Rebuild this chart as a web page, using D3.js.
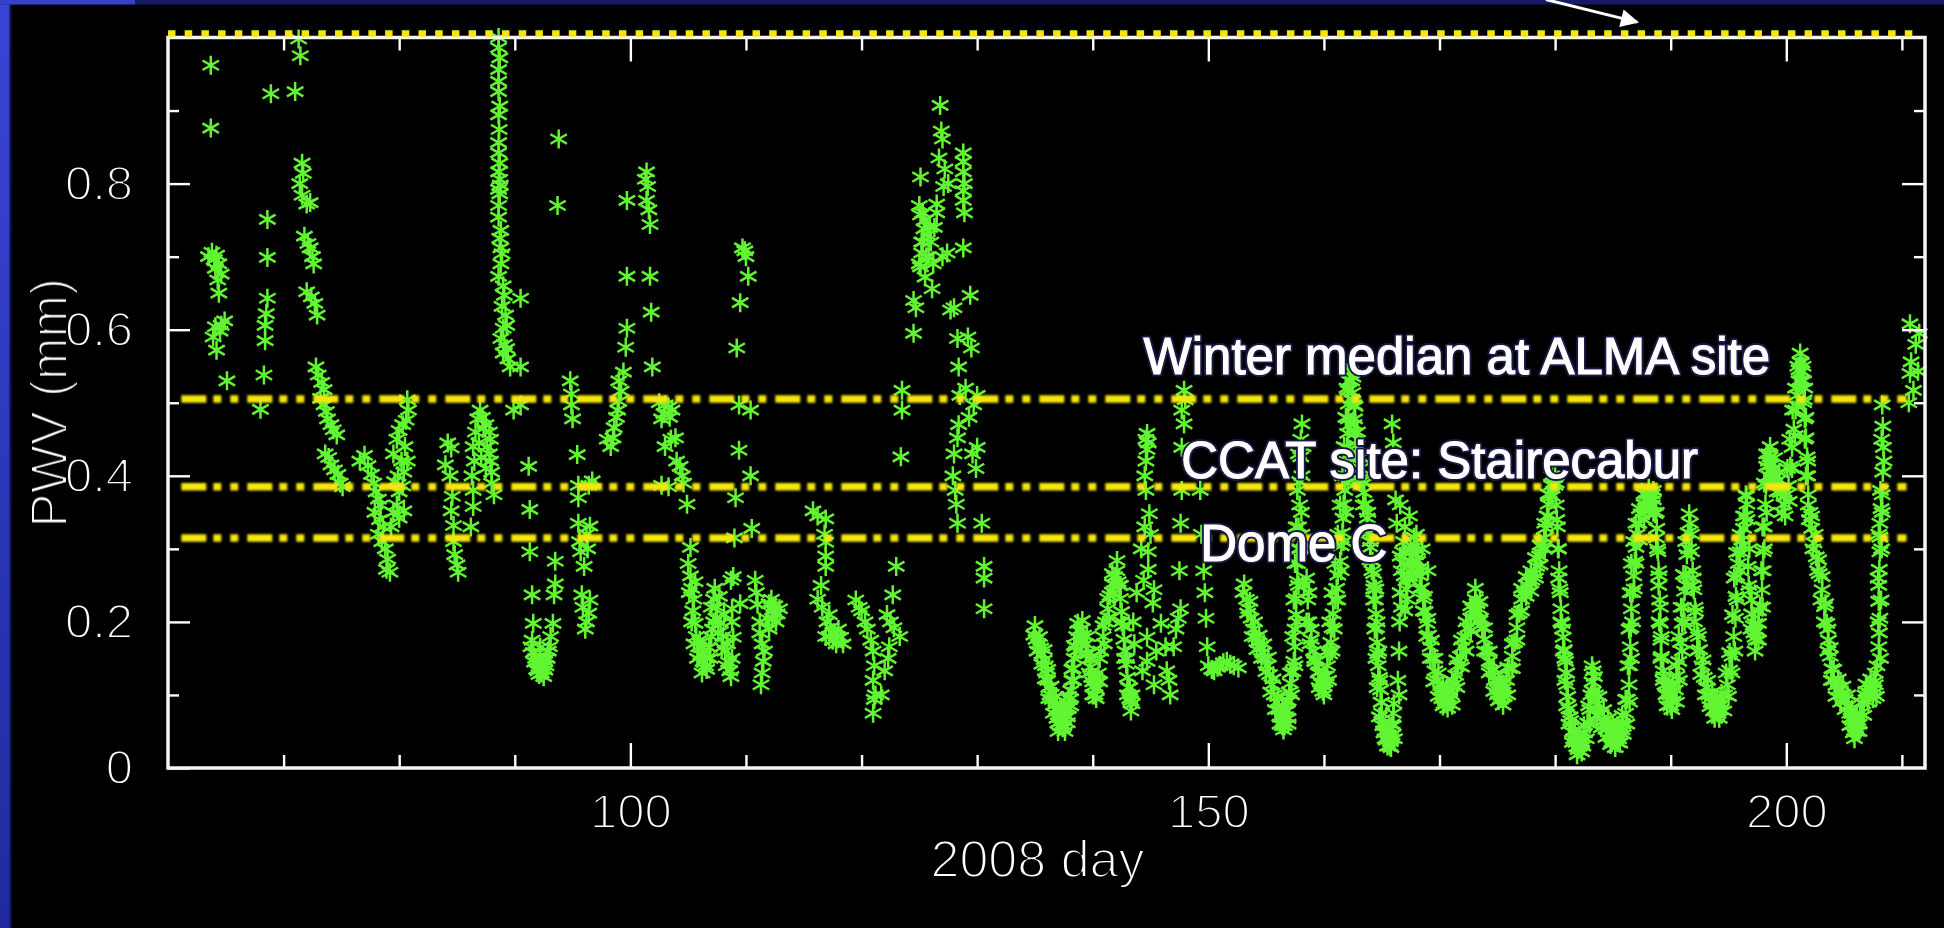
<!DOCTYPE html>
<html>
<head>
<meta charset="utf-8">
<script src="https://cdn.jsdelivr.net/npm/d3@7"></script>
<style>
  html, body { margin: 0; padding: 0; background: #000; overflow: hidden; }
  svg { display: block; }
</style>
</head>
<body>
<svg id="chart" width="1944" height="928"></svg>
<script>
// Precipitable water vapour (mm) against day of year 2008, as [day, pwv] samples.
const pwvDays060to076 = [
  [63.7,.962],[63.7,.876],
  [63.5,.700],[63.8,.706],[64.0,.696],[64.2,.702],[64.4,.690],[64.1,.684],[64.6,.676],[64.3,.668],
  [64.4,.650],[64.9,.612],[64.6,.606],[64.1,.604],[63.9,.590],[64.2,.572],[64.5,.598],[65.1,.530],
  [68.9,.923],[68.6,.751],[68.6,.699],[68.6,.643],[68.5,.622],[68.4,.606],[68.4,.585],[68.3,.538],[68.0,.491],
  [71.3,.998],[71.45,.975],[71.0,.926],
  [71.6,.828],[71.7,.814],[71.4,.800],[71.6,.784],[72.3,.774],[72.0,.772],
  [71.8,.728],[72.1,.718],[72.3,.712],[72.5,.700],[72.6,.690],
  [72.0,.652],[72.4,.645],[72.7,.636],[72.9,.620],
  [72.8,.549],[73.0,.538],[73.3,.528],[73.5,.518],[73.2,.506],[73.5,.497],[73.7,.488],[73.8,.478],
  [74.1,.470],[74.3,.463],[74.6,.456],[73.6,.430],[73.9,.425],[74.1,.415],[74.4,.408],[74.7,.402],
  [74.9,.390],[75.1,.385]
];
const pwvDays076to090 = [
  [76.6,.420],[77.0,.428],[77.3,.414],[77.6,.402],[77.8,.390],[78.0,.378],[78.2,.368],[78.4,.360],
  [77.9,.350],[78.3,.340],[78.6,.330],[78.2,.320],[78.5,.310],[78.8,.300],[79.0,.286],[78.9,.272],
  [79.2,.268],[79.3,.330],[79.5,.350],[79.8,.360],[80.0,.378],[79.6,.392],[79.9,.400],[80.3,.386],
  [80.0,.342],[80.4,.352],[79.5,.430],[79.8,.450],[80.0,.462],[80.3,.470],[80.6,.476],[80.8,.490],
  [80.7,.504],[80.5,.440],[80.7,.420],[80.2,.420],[80.4,.405],
  [84.2,.445],[84.5,.438],[84.0,.415],[84.4,.400],[84.6,.372],[84.5,.352],[84.7,.332],[84.7,.310],
  [84.8,.292],[85.0,.278],[85.1,.268],
  [86.2,.330],[86.4,.358],[86.4,.380],[86.3,.400],[86.5,.420],[86.4,.440],[86.6,.460],[86.8,.478],
  [87.0,.490],[87.2,.480],[87.5,.470],[87.8,.460],[87.9,.450],[87.6,.440],[87.9,.420],[88.0,.405],
  [87.5,.410],[88.2,.374],[88.0,.390],[87.8,.430],[87.3,.465],[86.9,.445],[87.1,.425],
  [88.6,1.0],[88.6,.986],[88.7,.972],[88.6,.956],[88.6,.940],[88.6,.926],[88.7,.906],[88.6,.894],
  [88.65,.874],[88.6,.856],[88.6,.842],[88.7,.828],[88.6,.816],[88.7,.806],[88.75,.798],[88.6,.792],
  [88.7,.786],[88.6,.770],[88.6,.754],[88.8,.736],[88.7,.725],[88.8,.712],[88.9,.704],[88.8,.690],
  [88.6,.673],[89.0,.660],[89.1,.647],[88.9,.632],[89.2,.620],[89.0,.602],[89.3,.606],[88.8,.588],
  [89.1,.580],[89.3,.574],[89.0,.568],[89.4,.560],[89.6,.549],[89.9,.490]
];
const pwvDays090to105 = [
  [90.5,.643],[90.5,.549],[90.5,.497],[91.2,.413],[91.3,.354],[91.3,.296],[91.5,.237],[91.6,.198],
  [91.4,.166],[91.6,.158],[91.8,.150],[92.0,.145],[92.2,.153],[92.4,.140],[92.6,.146],[92.8,.150],
  [92.0,.133],[92.3,.130],[92.6,.134],[93.0,.166],[93.1,.180],[93.3,.198],[93.4,.237],[93.5,.252],
  [91.7,.145],[91.9,.135],[92.1,.128],[92.5,.125],[92.7,.140],[92.9,.160],[91.5,.175],[92.2,.165],
  [93.5,.283],[93.8,.861],[93.7,.770],
  [94.8,.530],[94.9,.512],[94.9,.497],[95.0,.478],[95.4,.429],[95.5,.387],[96.7,.393],[96.4,.387],
  [95.5,.370],[95.5,.335],[96.5,.331],[96.2,.320],[95.6,.310],[95.7,.296],[96.3,.300],[96.0,.276],
  [95.8,.237],[95.9,.220],[96.2,.200],[96.5,.230],[96.4,.212],[96.1,.190],
  [98.0,.450],[98.3,.440],[98.5,.452],[98.6,.466],[98.8,.480],[98.9,.490],[99.0,.502],[99.2,.516],
  [99.0,.530],[99.4,.542],[99.6,.576],[99.7,.602],[99.7,.673],[99.7,.777],[101.4,.816],[101.3,.806],
  [101.5,.796],[101.4,.777],[101.6,.764],[101.7,.744],[101.7,.673],[101.8,.624],[101.9,.549],
  [102.5,.500],[103.0,.497],[103.3,.494],[103.6,.490],[102.9,.485],[103.4,.480],[102.7,.478],
  [103.0,.440],[103.5,.450],[103.9,.452],[104.3,.413],[104.0,.420],[104.5,.400],[104.6,.390],
  [102.7,.387],[103.3,.385],[104.9,.361],[105.2,.302]
];
const pwvDays105to124 = [
  [105.0,.280],[105.2,.263],[105.3,.246],[105.5,.231],[105.4,.215],[105.6,.198],[105.7,.180],
  [105.9,.166],[106.1,.155],[106.3,.146],[106.5,.140],[106.6,.150],[106.8,.165],[107.0,.180],
  [107.2,.200],[107.0,.220],[107.2,.231],[107.3,.246],[107.5,.220],[107.8,.198],[108.0,.180],
  [108.2,.160],[108.5,.145],[108.6,.133],[108.8,.150],[108.9,.179],[108.8,.200],[108.8,.218],[108.7,.257],
  [105.1,.240],[105.3,.200],[105.5,.170],[105.8,.150],[106.2,.130],[106.6,.135],[106.9,.150],
  [107.1,.190],[107.4,.205],[107.6,.185],[107.9,.165],[108.3,.140],[108.7,.125],[108.4,.170],
  [106.0,.175],[105.6,.255],[106.3,.165],[107.7,.235],[108.1,.210],
  [109.7,.712],[109.9,.708],[110.0,.700],[110.2,.673],[109.5,.637],[109.2,.575],[109.4,.497],
  [110.4,.490],[109.4,.435],[110.4,.400],[109.1,.370],[110.5,.328],[109.0,.315],[108.9,.262],
  [109.5,.225],[110.8,.257],[110.9,.240],[111.0,.224],[111.2,.200],[111.2,.185],[111.4,.170],
  [111.5,.146],[111.4,.130],[111.3,.114],[111.6,.160],[112.0,.190],[112.3,.205],[112.7,.211],
  [112.5,.222],[112.2,.231],[112.0,.225],[112.4,.215],[112.6,.200],[111.8,.205],[112.9,.218],
  [115.8,.352],[116.2,.345],[116.9,.341],[116.8,.320],[116.9,.309],[116.9,.290],[116.9,.276],
  [116.5,.250],[116.2,.231],[116.6,.220],[117.2,.210],[117.0,.200],[117.3,.192],[117.6,.185],
  [117.9,.180],[118.2,.179],[118.4,.170],[117.8,.170],[116.9,.180],[117.5,.175],[118.0,.190],[117.2,.180],
  [119.5,.230],[119.8,.220],[120.0,.215],[120.3,.200],[120.5,.190],[120.8,.175],[121.0,.160],
  [121.1,.140],[121.0,.120],[121.2,.100],[121.1,.094],[121.0,.075],
  [121.7,.100],[122.0,.133],[122.3,.150],[122.4,.166],[122.8,.192],[122.7,.237],[123.0,.276],
  [123.4,.426],[123.5,.490],[123.5,.517],[123.3,.180],[122.5,.200],[122.2,.210]
];
const pwvDays124to131 = [
  [124.5,.595],[124.5,.640],[124.7,.630],[125.1,.809],[125.0,.770],[125.1,.757],[125.4,.738],
  [125.3,.720],[125.2,.705],[125.0,.690],[125.6,.700],[125.1,.686],[125.5,.672],[125.8,.700],
  [126.0,.720],[126.3,.740],[126.5,.760],[126.1,.656],[126.8,.907],[126.9,.872],[127.0,.861],
  [125.2,.720],[125.5,.750],[125.7,.730],[125.3,.760],[126.2,.690],[125.9,.740],
  [126.7,.835],[127.2,.820],[127.1,.796],[126.5,.772],[127.5,.800],[127.4,.705],[127.0,.700],
  [127.7,.627],[128.0,.630],[128.3,.588],[128.4,.549],[128.5,.510],[128.4,.470],[128.3,.452],
  [128.0,.430],[127.9,.400],[128.1,.380],[128.2,.361],[128.3,.335],
  [128.8,.842],[128.8,.830],[128.8,.816],[128.9,.800],[128.8,.790],[128.8,.777],[128.9,.760],
  [128.8,.712],[129.4,.647],[129.2,.590],[129.5,.575],[129.7,.497],[129.3,.480],[130.0,.439],
  [129.6,.430],[129.9,.410],[130.4,.335],[130.6,.276],[130.6,.260],[130.6,.218],[130.0,.510],[129.0,.520]
];
const pwvDays134to153 = [
  [134.9,.182],[135.1,.176],[135.3,.170],[135.5,.164],[135.6,.156],[135.8,.148],[135.9,.140],
  [136.0,.130],[136.1,.120],[136.2,.110],[136.3,.100],[136.5,.094],[136.7,.086],[136.9,.080],
  [137.1,.072],[137.3,.064],[137.5,.066],[137.7,.072],[137.9,.082],[138.0,.094],[138.1,.106],
  [138.2,.120],[138.3,.136],[138.4,.150],[138.5,.166],[138.6,.180],[138.8,.188],[139.0,.190],
  [139.2,.182],[139.4,.170],[139.6,.156],[139.8,.138],[139.9,.124],[140.1,.112],[140.3,.108],
  [140.5,.130],[140.7,.160],[140.9,.180],[141.1,.200],[141.3,.218],[141.5,.236],[141.7,.252],
  [141.9,.262],[142.1,.270],[142.3,.250],[142.4,.232],[142.5,.214],[142.6,.194],[142.7,.176],
  [142.8,.160],[142.9,.142],[143.0,.124],[143.1,.110],[143.3,.092],[143.4,.088],
  [135.0,.195],[135.4,.180],[135.8,.162],[136.1,.135],[136.4,.112],[136.8,.098],[137.2,.084],
  [137.6,.084],[137.9,.098],[138.2,.135],[138.4,.168],[138.7,.198],[139.1,.202],[139.5,.180],
  [139.8,.150],[140.2,.124],[140.6,.150],[140.9,.195],[141.3,.232],[141.7,.266],[142.1,.284],
  [142.4,.250],[142.7,.195],[142.95,.150],[143.2,.110],
  [135.2,.160],[135.6,.142],[135.9,.122],[136.2,.095],[136.6,.075],[137.0,.062],[137.4,.055],
  [137.8,.062],[138.1,.085],[138.35,.120],[138.6,.160],[139.0,.176],[139.4,.156],[139.7,.130],
  [140.0,.100],[140.3,.095],[140.6,.118],[141.0,.170],[141.4,.206],[141.8,.240],[142.2,.255],
  [142.5,.200],[142.75,.150],[143.0,.100],[143.3,.078],
  [136.9,.068],[137.2,.058],[137.5,.058],[137.8,.070],[137.0,.050],[137.6,.050],
  [140.0,.118],[140.4,.120],[140.2,.100],[143.2,.095],[143.4,.100],
  [143.5,.200],[143.6,.170],[143.8,.240],[144.2,.300],[144.5,.330],
  [144.7,.458],[144.6,.450],[144.8,.445],[144.7,.436],[144.6,.420],[144.5,.400],[144.6,.380],
  [144.9,.348],[145.0,.320],[144.8,.296],[144.8,.272],[144.4,.257],[145.3,.244],[145.2,.226],
  [144.7,.179],[144.3,.133],[144.7,.146],[145.3,.114],[145.5,.160],[145.9,.198],[146.3,.166],
  [146.4,.133],[146.7,.100],[146.6,.120],[147.0,.166],[147.2,.190],[147.4,.205],[147.6,.218],
  [147.5,.270],[147.6,.335],[147.7,.380],[147.7,.439],[147.9,.471],[147.7,.490],[147.9,.517],[148.0,.504],
  [149.3,.380],[149.4,.320],[149.6,.270],[149.7,.240],[149.8,.205],[149.9,.166],[150.0,.140],
  [150.3,.135],[150.5,.133],[150.8,.138],[151.0,.140],[151.3,.144],[151.6,.146],[151.9,.142],
  [152.2,.140],[152.6,.137]
];
const pwvDays153to166 = [
  [153.0,.240],[153.3,.231],[153.5,.218],[153.7,.205],[153.9,.190],[154.1,.179],[154.3,.172],
  [154.5,.166],[154.7,.158],[154.9,.150],[155.1,.140],[155.3,.128],[155.5,.114],[155.7,.100],
  [155.9,.090],[156.1,.080],[156.3,.070],[156.5,.064],[156.7,.070],[156.8,.078],[156.9,.092],
  [157.0,.104],[157.1,.116],[157.3,.132],[157.4,.146],[157.5,.166],[157.5,.190],[157.6,.210],
  [157.6,.232],[157.7,.256],[157.7,.280],[157.8,.300],[157.8,.330],[157.9,.360],[157.9,.392],
  [158.0,.426],[158.0,.450],[158.1,.471],
  [158.3,.300],[158.5,.260],[158.6,.230],[158.7,.200],[158.9,.176],[159.1,.160],[159.3,.146],
  [159.5,.130],[159.7,.118],[160.0,.112],[160.2,.126],[160.3,.140],[160.5,.156],[160.6,.172],
  [160.7,.192],[160.8,.211],[161.0,.230],[161.1,.246],[161.2,.264],[161.4,.283],[161.5,.304],
  [161.6,.322],[161.65,.342],[161.7,.361],[161.8,.380],[161.9,.400],[161.95,.420],[162.0,.439],
  [162.05,.458],[162.1,.478],[162.1,.498],[162.1,.517],[162.2,.530],[162.3,.543],[162.4,.530],
  [162.5,.514],[162.6,.497],[162.65,.478],[162.7,.458],[162.85,.442],[163.0,.426],[163.15,.410],
  [163.3,.393],[163.45,.377],[163.6,.361],[163.75,.342],[163.9,.322],[164.05,.302],[164.2,.283],
  [164.3,.266],[164.35,.250],[164.45,.230],[164.5,.211],[164.55,.192],[164.6,.172],[164.65,.156],
  [164.7,.140],[164.8,.124],[164.9,.107],[164.95,.090],[165.0,.075],[165.15,.062],[165.3,.050],
  [165.5,.042],[165.75,.036],[165.9,.045],[166.0,.058],[166.0,.075],[166.05,.088],
  [165.9,.471],[166.0,.445],[166.2,.367],[166.3,.335],
  [153.1,.252],[153.6,.228],[154.0,.200],[154.4,.182],[154.8,.170],[155.2,.152],[155.6,.122],
  [156.0,.098],[156.4,.082],[156.8,.090],[157.1,.130],[157.3,.180],[157.4,.230],[157.5,.280],
  [157.6,.330],[157.7,.380],[157.8,.430],
  [158.1,.320],[158.3,.250],[158.5,.200],[158.8,.170],[159.2,.150],[159.6,.132],[160.0,.126],
  [160.3,.160],[160.5,.200],[160.7,.240],[160.95,.280],[161.2,.320],[161.4,.360],[161.6,.400],
  [161.75,.440],[161.9,.480],[162.0,.520],[162.2,.550],[162.5,.535],[162.7,.495],[162.9,.460],
  [163.2,.425],[163.5,.390],[163.8,.350],[164.0,.310],[164.15,.270],[164.3,.230],[164.4,.190],
  [164.5,.150],[164.6,.110],[164.8,.070],[165.1,.058],[165.5,.052],[165.9,.060],
  [153.4,.212],[153.8,.180],[154.2,.162],[154.6,.150],[155.0,.132],[155.4,.104],[155.8,.080],
  [156.2,.060],[156.5,.052],[156.9,.068],[157.2,.100],[157.5,.140],[157.7,.200],[157.8,.250],
  [157.95,.300],[158.05,.350],[158.1,.400],[158.2,.440],
  [158.7,.240],[158.9,.190],[159.2,.146],[159.6,.110],[160.0,.100],[160.4,.120],[160.7,.160],
  [160.9,.190],[161.2,.230],[161.5,.270],[161.7,.310],[161.9,.350],[162.05,.390],[162.2,.430],
  [162.3,.470],[162.4,.505],[162.6,.470],[162.8,.430],[163.1,.395],[163.4,.360],[163.7,.325],
  [164.0,.285],[164.3,.245],[164.5,.245],[164.6,.200],[164.75,.160],[164.85,.120],[165.0,.090],
  [165.2,.048],[165.5,.030],[165.8,.028],[166.1,.040],
  [156.2,.070],[156.6,.058],[156.9,.060],[156.4,.058],[156.7,.080],
  [159.8,.115],[160.1,.118],[159.9,.105],
  [165.4,.038],[165.6,.045],[165.8,.040],[165.7,.030],[165.3,.040]
];
const pwvDays166to183 = [
  [166.4,.120],[166.5,.160],[166.55,.200],[166.6,.240],[166.7,.270],[166.8,.296],[166.9,.280],
  [166.95,.263],[167.1,.245],[167.2,.231],[167.35,.258],[167.5,.283],[167.65,.296],[167.8,.302],
  [167.95,.292],[168.1,.283],[168.2,.273],[168.3,.263],[168.45,.247],[168.6,.231],[168.75,.214],
  [168.9,.198],[169.05,.182],[169.2,.166],[169.4,.150],[169.6,.133],[169.8,.120],[170.1,.107],
  [170.3,.100],[170.5,.094],[170.75,.097],[171.0,.100],[171.2,.114],[171.4,.127],[171.6,.140],
  [171.8,.153],[172.0,.166],[172.2,.179],[172.45,.192],[172.7,.205],[172.9,.218],[173.1,.231],
  [173.25,.225],[173.4,.218],[173.55,.205],[173.7,.192],[173.9,.176],[174.1,.159],[174.3,.146],
  [174.5,.133],[174.75,.120],[175.0,.107],[175.2,.102],[175.4,.100],[175.6,.110],[175.8,.120],
  [176.05,.136],[176.3,.153],[176.5,.172],[176.7,.192],[176.9,.212],[177.1,.231],[177.35,.241],
  [177.6,.250],[177.8,.254],[178.0,.257],[178.2,.266],[178.4,.276],[178.65,.290],[178.9,.302],
  [179.05,.315],[179.2,.328],[179.3,.345],[179.4,.361],[179.55,.374],[179.7,.387],[179.85,.390],
  [180.0,.387],[180.1,.360],[180.2,.330],[180.3,.300],[180.35,.270],[180.4,.245],[180.5,.218],
  [180.6,.198],[180.7,.179],[180.8,.162],[180.9,.146],[180.95,.130],[181.0,.114],[181.1,.098],
  [181.2,.081],[181.35,.065],[181.5,.049],[181.7,.038],[181.9,.029],[182.1,.030],[182.3,.036],
  [182.55,.048],[182.8,.062],[183.0,.080],[183.1,.100],[183.2,.118],[183.3,.133],
  [167.0,.330],[167.4,.345],[168.0,.320],[168.5,.300],[169.0,.270],[166.6,.360],
  [166.6,.290],[166.9,.310],[167.2,.260],[167.5,.300],[167.8,.316],[168.1,.298],[168.4,.270],
  [168.7,.235],[169.0,.205],[169.3,.175],[169.6,.150],[169.9,.130],[170.3,.115],[170.7,.110],
  [171.1,.120],[171.5,.148],[171.9,.175],[172.3,.200],[172.7,.222],[173.1,.246],[173.5,.228],
  [173.9,.192],[174.3,.160],[174.7,.135],[175.1,.120],[175.5,.115],[175.9,.138],[176.3,.170],
  [176.7,.210],[177.1,.246],[177.5,.262],[177.9,.270],[178.3,.288],[178.7,.305],[179.1,.335],
  [179.4,.375],[179.7,.400],[180.0,.400],[180.15,.340],[180.3,.260],[180.5,.200],[180.7,.160],
  [180.85,.120],[181.0,.085],[181.3,.070],[181.7,.052],[182.1,.045],[182.5,.058],[182.9,.085],[183.2,.140],
  [166.5,.100],[166.7,.220],[167.0,.215],[167.4,.262],[167.7,.282],[168.0,.270],[168.3,.245],
  [168.6,.215],[168.9,.180],[169.2,.150],[169.5,.118],[169.9,.098],[170.3,.085],[170.7,.082],
  [171.1,.086],[171.5,.110],[171.9,.138],[172.3,.160],[172.7,.188],[173.1,.215],[173.5,.202],
  [173.9,.160],[174.3,.130],[174.7,.105],[175.1,.092],[175.5,.086],[175.9,.100],[176.3,.136],
  [176.7,.175],[177.1,.215],[177.5,.235],[177.9,.242],[178.3,.260],[178.7,.278],[179.1,.300],
  [179.4,.345],[179.75,.372],[180.1,.390],[180.25,.300],[180.45,.240],[180.65,.190],[180.85,.150],
  [181.0,.130],[181.2,.060],[181.5,.035],[181.9,.018],[182.3,.022],[182.7,.040],[183.0,.060],[183.3,.105],
  [170.2,.095],[170.5,.100],[170.8,.095],[170.6,.088],[170.4,.088],
  [175.0,.100],[175.3,.095],[175.6,.098],[175.4,.108],
  [181.6,.040],[181.8,.035],[182.0,.025],[182.2,.035],[182.4,.030],[182.0,.040]
];
const pwvDays183to212 = [
  [183.5,.100],[183.7,.088],[183.9,.075],[184.2,.065],[184.5,.055],[184.8,.048],[185.1,.042],
  [185.35,.044],[185.6,.049],[185.85,.060],[186.1,.075],[186.25,.094],[186.4,.114],[186.45,.140],
  [186.5,.166],[186.55,.192],[186.6,.218],[186.7,.240],[186.8,.263],[186.9,.283],[187.0,.302],
  [187.1,.320],[187.25,.335],[187.45,.348],[187.7,.361],[187.9,.366],[188.1,.370],[188.3,.370],
  [188.5,.367],[188.65,.348],[188.8,.328],[188.9,.296],[189.0,.263],[189.05,.230],[189.1,.198],
  [189.15,.175],[189.2,.153],[189.35,.133],[189.5,.114],[189.7,.102],[189.9,.094],[190.15,.100],
  [190.4,.107],[190.55,.126],[190.7,.146],[190.85,.172],[191.0,.198],[191.1,.220],[191.2,.242],
  [191.3,.263],[191.4,.292],[191.5,.322],[191.7,.335],[191.8,.296],[191.9,.270],[192.0,.244],
  [192.15,.214],[192.3,.185],[192.5,.162],[192.7,.140],[192.9,.124],[193.1,.110],[193.3,.100],
  [193.6,.090],[193.9,.081],[194.15,.084],[194.4,.088],[194.65,.100],[194.9,.114],[195.1,.134],
  [195.3,.153],[195.45,.180],[195.6,.205],[195.65,.235],[195.7,.263],[195.85,.280],[196.0,.296],
  [196.15,.312],[196.3,.328],[196.45,.345],[196.6,.361],[196.5,.374],[196.7,.276],[196.85,.243],
  [197.0,.211],[197.15,.195],[197.3,.179],[197.45,.188],[197.6,.198],[197.75,.221],[197.9,.244],
  [198.0,.270],[198.0,.296],[198.1,.330],[198.2,.361],[198.25,.387],[198.3,.413],[198.45,.420],
  [198.6,.426],[198.9,.410],[199.2,.393],[199.5,.377],[199.8,.361],[200.0,.374],[200.2,.387],
  [200.35,.413],[200.5,.439],[200.65,.464],[200.8,.490],[200.95,.510],[201.1,.530],[201.2,.556],
  [201.35,.543],[201.5,.530],[201.55,.504],[201.6,.478],[201.7,.452],[201.8,.426],[201.85,.400],
  [201.9,.374],[202.05,.350],[202.2,.328],[202.4,.308],[202.6,.289],[202.85,.266],[203.1,.244],
  [203.3,.221],[203.5,.198],[203.65,.175],[203.8,.153],[203.95,.136],[204.1,.120],[204.3,.113],
  [204.5,.107],[204.8,.100],[205.1,.094],[205.3,.085],[205.5,.075],[205.75,.065],[206.0,.055],
  [206.2,.065],[206.4,.075],[206.6,.088],[206.8,.100],[207.05,.104],[207.3,.107],[207.5,.110],
  [207.7,.114],[207.85,.140],[208.0,.166],[208.05,.185],[208.1,.205],[208.0,.228],[208.0,.250],
  [208.05,.272],[208.1,.296],[208.1,.316],[208.1,.335],[208.2,.355],[208.3,.374],[208.35,.405],
  [208.4,.439],[208.35,.468],[208.3,.497],
  [210.6,.500],[210.7,.540],[210.7,.608],[210.8,.556],[211.0,.517],[211.4,.543],[211.5,.595],[211.2,.580],
  [183.4,.125],[183.8,.098],[184.2,.080],[184.6,.068],[185.0,.060],[185.4,.058],[185.8,.072],
  [186.1,.094],[186.3,.140],[186.4,.190],[186.5,.240],[186.6,.280],[186.8,.310],[187.0,.335],
  [187.3,.355],[187.7,.375],[188.1,.383],[188.5,.380],[188.75,.350],[188.85,.300],[188.95,.250],
  [189.0,.200],[189.15,.150],[189.4,.125],[189.8,.110],[190.2,.115],[190.5,.140],[190.7,.180],
  [190.9,.220],[191.1,.265],[191.3,.310],[191.6,.348],[191.8,.320],[191.95,.260],[192.1,.220],
  [192.4,.180],[192.8,.148],[193.2,.120],[193.6,.104],[194.0,.096],[194.4,.102],[194.8,.130],
  [195.1,.158],[195.35,.210],[195.5,.260],[195.7,.295],[196.0,.320],[196.3,.345],[196.55,.372],
  [196.8,.300],[197.0,.230],[197.3,.198],[197.6,.215],[197.85,.270],[197.95,.330],[198.1,.390],
  [198.3,.430],[198.6,.440],[199.0,.425],[199.4,.405],[199.8,.378],[200.1,.410],[200.3,.450],
  [200.55,.490],[200.8,.520],[201.0,.550],[201.2,.568],[201.45,.550],[201.5,.500],[201.6,.450],
  [201.7,.400],[201.9,.360],[202.2,.345],[202.5,.320],[202.8,.285],[203.1,.262],[203.4,.225],
  [203.6,.190],[203.8,.165],[204.1,.135],[204.5,.122],[204.9,.112],[205.3,.100],[205.7,.080],
  [206.1,.072],[206.5,.090],[206.9,.115],[207.3,.122],[207.7,.130],[207.95,.200],[207.95,.260],
  [208.0,.320],[208.15,.380],[208.25,.450],
  [183.6,.072],[184.0,.055],[184.4,.042],[184.8,.032],[185.2,.028],[185.6,.034],[185.9,.046],
  [186.2,.060],[186.45,.090],[186.6,.150],[186.7,.200],[186.85,.245],[187.0,.280],[187.3,.312],
  [187.7,.340],[188.1,.352],[188.5,.350],[188.75,.315],[188.95,.270],[189.1,.220],[189.2,.180],
  [189.35,.120],[189.7,.085],[190.1,.080],[190.5,.090],[190.75,.120],[191.0,.160],[191.2,.200],
  [191.4,.250],[191.55,.300],[191.85,.250],[192.05,.200],[192.3,.160],[192.6,.128],[193.0,.100],
  [193.4,.084],[193.8,.068],[194.2,.068],[194.6,.078],[195.0,.098],[195.3,.130],[195.55,.160],
  [195.75,.230],[196.0,.270],[196.3,.305],[196.6,.340],[196.75,.250],[196.95,.190],[197.3,.160],
  [197.6,.175],[197.95,.220],[198.1,.300],[198.3,.350],[198.5,.400],[198.8,.395],[199.2,.378],
  [199.6,.350],[199.9,.345],[200.25,.365],[200.5,.410],[200.75,.455],[201.0,.495],[201.25,.530],
  [201.6,.520],[201.7,.480],[201.85,.420],[202.0,.340],[202.3,.300],[202.7,.270],[203.0,.230],
  [203.3,.200],[203.6,.160],[203.9,.120],[204.3,.098],[204.7,.090],[205.1,.080],[205.5,.058],
  [205.9,.040],[206.3,.050],[206.7,.072],[207.1,.090],[207.5,.095],[207.8,.098],[208.15,.150],
  [208.2,.230],[208.25,.300],[208.3,.350],[208.45,.420],
  [184.4,.060],[184.7,.055],[185.0,.040],[185.2,.050],[185.5,.040],[185.8,.052],[184.9,.035],[185.4,.035],
  [187.8,.355],[188.2,.360],[188.4,.360],[188.0,.375],[188.4,.375],
  [189.6,.100],[189.9,.100],[190.2,.092],[190.0,.085],
  [193.5,.090],[193.8,.090],[194.1,.075],[194.3,.080],[193.7,.078],
  [197.2,.185],[197.4,.175],[198.5,.430],[198.7,.415],[199.0,.400],[201.1,.545],[201.3,.555],
  [205.6,.068],[205.9,.060],[206.1,.050],[206.3,.060],[205.8,.048],[206.0,.065],
  [206.9,.105],[207.2,.112],[207.5,.102],[207.6,.118]
];

// Comparison site levels (mm) and their names
const siteLevels = [0.505, 0.385, 0.315];
const siteNames = ["Winter median at ALMA site", "CCAT site: Stairecabur", "Dome C"];

// Axis ticks
const dayMajorTicks = [100, 150, 200];
const dayMajorLabels = ["100", "150", "200"];
const dayMinorTicks = [70, 80, 90, 110, 120, 130, 140, 160, 170, 180, 190, 210];
const pwvMajorTicks = [0, 0.2, 0.4, 0.6, 0.8];
const pwvMajorLabels = ["0", "0.2", "0.4", "0.6", "0.8"];
const pwvMinorTicks = [0.1, 0.3, 0.5, 0.7, 0.9];

const pwvSamples = [].concat(
  pwvDays060to076, pwvDays076to090, pwvDays090to105, pwvDays105to124,
  pwvDays124to131, pwvDays134to153, pwvDays153to166, pwvDays166to183, pwvDays183to212
).map(([day, pwv]) => ({ day, pwv }));

// ---- layout ----
const W = 1944, H = 928;
const frame = { left: 168, right: 1925, top: 37.5, bottom: 768 };
const x = d3.scaleLinear().domain([60, 212]).range([frame.left, frame.right]);
const y = d3.scaleLinear().domain([0, 1]).range([frame.bottom, frame.top]);

const svg = d3.select("#chart");
const defs = svg.append("defs");

const sideGrad = defs.append("linearGradient").attr("id", "sideGrad")
  .attr("x1", 0).attr("y1", 0).attr("x2", 0).attr("y2", 1);
sideGrad.append("stop").attr("offset", 0).attr("stop-color", "#3a45d6");
sideGrad.append("stop").attr("offset", 1).attr("stop-color", "#202a9e");

const edgeGrad = defs.append("linearGradient").attr("id", "edgeGrad")
  .attr("x1", 0).attr("y1", 0).attr("x2", 1).attr("y2", 0);
edgeGrad.append("stop").attr("offset", 0).attr("stop-color", "#2630b4").attr("stop-opacity", 0.9);
edgeGrad.append("stop").attr("offset", 1).attr("stop-color", "#000").attr("stop-opacity", 0);

defs.append("filter").attr("id", "soft").append("feGaussianBlur").attr("stdDeviation", 0.5);
defs.append("filter").attr("id", "softer").append("feGaussianBlur").attr("stdDeviation", 0.9);

defs.append("marker").attr("id", "arrowHead")
  .attr("viewBox", "0 0 10 10").attr("refX", 9).attr("refY", 5)
  .attr("markerWidth", 7).attr("markerHeight", 6).attr("markerUnits", "strokeWidth")
  .attr("orient", "auto")
  .append("path").attr("d", "M0,0L10,5L0,10Z").attr("fill", "#fff");

// background and the slide's blue border strips
svg.append("rect").attr("width", W).attr("height", H).attr("fill", "#000");
svg.append("rect").attr("x", 0).attr("y", 0).attr("width", 9).attr("height", H).attr("fill", "url(#sideGrad)");
svg.append("rect").attr("x", 9).attr("y", 0).attr("width", 5).attr("height", H).attr("fill", "url(#edgeGrad)");
svg.append("rect").attr("x", 0).attr("y", 0).attr("width", W).attr("height", 4.5).attr("fill", "#151a66");
svg.append("rect").attr("x", 0).attr("y", 0).attr("width", 135).attr("height", 4.5).attr("fill", "#3540cc");

// ---- samples drawn as asterisk markers ----
const star = "M0,-9.5V9.5M-8.2,-4.75L8.2,4.75M-8.2,4.75L8.2,-4.75";
svg.append("g").attr("filter", "url(#soft)")
  .selectAll("path").data(pwvSamples).join("path")
  .attr("d", star)
  .attr("transform", d => `translate(${x(d.day)},${y(d.pwv)})`)
  .attr("fill", "none")
  .attr("stroke", "#62f533")
  .attr("stroke-width", 2.5);

// ---- site reference levels ----
const levelSpan = [61.15, 210.4];
svg.append("g").attr("filter", "url(#softer)")
  .selectAll("line").data(siteLevels).join("line")
  .attr("x1", x(levelSpan[0])).attr("x2", x(levelSpan[1]))
  .attr("y1", d => y(d)).attr("y2", d => y(d))
  .attr("stroke", "#f5e60c")
  .attr("stroke-width", 7.5)
  .attr("stroke-dasharray", "25 7 8 9 8 9");

// ---- frame and ticks ----
const axisFont = "'Liberation Sans', Arial, Helvetica, sans-serif";

function styleAxis(g) {
  g.select(".domain").remove();
  g.selectAll(".tick line").attr("stroke", "#fff").attr("stroke-width", 2.4);
  g.selectAll(".tick text")
    .attr("fill", "#fff").attr("font-family", axisFont).attr("font-size", 49)
    .attr("stroke", "#000").attr("stroke-width", 2.0);
}

svg.append("g").attr("transform", `translate(0,${frame.bottom})`)
  .call(d3.axisBottom(x).tickValues(dayMajorTicks).tickFormat((d, i) => dayMajorLabels[i])
    .tickSizeInner(-25).tickSizeOuter(0).tickPadding(25))
  .call(styleAxis);
svg.append("g").attr("transform", `translate(0,${frame.bottom})`)
  .call(d3.axisBottom(x).tickValues(dayMinorTicks).tickFormat("").tickSizeInner(-13).tickSizeOuter(0))
  .call(styleAxis);
svg.append("g").attr("transform", `translate(0,${frame.top})`)
  .call(d3.axisTop(x).tickValues(dayMajorTicks).tickFormat("").tickSizeInner(-24).tickSizeOuter(0))
  .call(styleAxis);
svg.append("g").attr("transform", `translate(0,${frame.top})`)
  .call(d3.axisTop(x).tickValues(dayMinorTicks).tickFormat("").tickSizeInner(-13).tickSizeOuter(0))
  .call(styleAxis);

svg.append("g").attr("transform", `translate(${frame.left},0)`)
  .call(d3.axisLeft(y).tickValues(pwvMajorTicks).tickFormat((d, i) => pwvMajorLabels[i])
    .tickSizeInner(-22).tickSizeOuter(0).tickPadding(35))
  .call(styleAxis);
svg.append("g").attr("transform", `translate(${frame.left},0)`)
  .call(d3.axisLeft(y).tickValues(pwvMinorTicks).tickFormat("").tickSizeInner(-11).tickSizeOuter(0))
  .call(styleAxis);
svg.append("g").attr("transform", `translate(${frame.right},0)`)
  .call(d3.axisRight(y).tickValues(pwvMajorTicks.slice(1)).tickFormat("").tickSizeInner(-23).tickSizeOuter(0))
  .call(styleAxis);
svg.append("g").attr("transform", `translate(${frame.right},0)`)
  .call(d3.axisRight(y).tickValues(pwvMinorTicks).tickFormat("").tickSizeInner(-11).tickSizeOuter(0))
  .call(styleAxis);

svg.append("rect")
  .attr("x", frame.left).attr("y", frame.top)
  .attr("width", frame.right - frame.left).attr("height", frame.bottom - frame.top)
  .attr("fill", "none").attr("stroke", "#f4f4f4").attr("stroke-width", 3.5);

// dotted yellow rule sitting on the upper frame edge
svg.append("line")
  .attr("x1", x(60)).attr("x2", x(211.6))
  .attr("y1", y(1) - 4).attr("y2", y(1) - 4)
  .attr("stroke", "#f5e60c").attr("stroke-width", 6.5)
  .attr("stroke-dasharray", "7.5 9.2");

// ---- axis titles ----
svg.append("text")
  .attr("x", (frame.left + frame.right) / 2 - 9).attr("y", 877)
  .attr("text-anchor", "middle")
  .attr("font-family", axisFont).attr("font-size", 52)
  .attr("fill", "#fff").attr("stroke", "#000").attr("stroke-width", 2.0)
  .text("2008 day");

svg.append("text")
  .attr("transform", `translate(67,${(frame.top + frame.bottom) / 2}) rotate(-90)`)
  .attr("text-anchor", "middle")
  .attr("font-family", axisFont).attr("font-size", 51)
  .attr("fill", "#fff").attr("stroke", "#000").attr("stroke-width", 2.0)
  .text("PWV (mm)");

// ---- site annotations: dark halo underneath, then the white lettering ----
const siteLabelAnchor = [
  { day: 144.4, pwv: 0.539 },
  { day: 147.66, pwv: 0.397 },
  { day: 149.3, pwv: 0.284 }
];
const annot = svg.append("g")
  .attr("font-family", "'Liberation Sans', Arial, Helvetica, sans-serif")
  .attr("font-size", 51);
annot.selectAll("text.halo").data(siteNames).join("text")
  .attr("class", "halo")
  .attr("x", (d, i) => x(siteLabelAnchor[i].day))
  .attr("y", (d, i) => y(siteLabelAnchor[i].pwv))
  .attr("fill", "#1a1a44").attr("stroke", "#1a1a44").attr("stroke-width", 5)
  .attr("stroke-linejoin", "round")
  .text(d => d);
annot.selectAll("text.face").data(siteNames).join("text")
  .attr("class", "face")
  .attr("x", (d, i) => x(siteLabelAnchor[i].day))
  .attr("y", (d, i) => y(siteLabelAnchor[i].pwv))
  .attr("fill", "#fff").attr("stroke", "#fff").attr("stroke-width", 1.1)
  .text(d => d);

// arrow pointing up out of the frame
svg.append("line")
  .attr("x1", x(179.2)).attr("y1", y(1.052))
  .attr("x2", x(187.1)).attr("y2", y(1.021))
  .attr("stroke", "#fff").attr("stroke-width", 3)
  .attr("marker-end", "url(#arrowHead)");
</script>
</body>
</html>
